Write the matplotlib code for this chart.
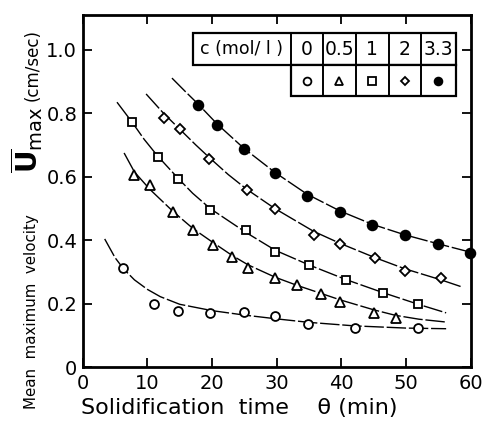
import numpy as np
import matplotlib
matplotlib.use("Agg")
import matplotlib.pyplot as plt
from matplotlib.patches import Rectangle

# concentration c (mol/l) and the marker used for each series
CONC = ["0", "0.5", "1", "2", "3.3"]
MARKERS = ["o", "^", "s", "D", "o"]
FILLED = [False, False, False, False, True]

# measured points, theta (min) vs mean max velocity (cm/sec)
T0 = [6.3, 11.0, 14.8, 19.7, 25.0, 29.8, 34.9, 42.1, 51.9]
U0 = [0.312, 0.200, 0.178, 0.171, 0.173, 0.161, 0.137, 0.124, 0.124]
T05 = [8.0, 10.4, 14.0, 17.1, 20.2, 23.1, 25.6, 29.8, 33.1, 36.9, 39.8, 45.1, 48.4]
U05 = [0.604, 0.574, 0.489, 0.432, 0.386, 0.348, 0.312, 0.281, 0.258, 0.232, 0.206, 0.169, 0.155]
T1 = [7.6, 11.6, 14.8, 19.7, 25.2, 29.8, 35.0, 40.7, 46.4, 51.9]
U1 = [0.773, 0.661, 0.594, 0.496, 0.431, 0.362, 0.323, 0.273, 0.234, 0.200]
T2 = [12.5, 15.1, 19.6, 25.4, 29.7, 35.7, 39.8, 45.2, 49.8, 55.4]
U2 = [0.786, 0.752, 0.657, 0.557, 0.499, 0.417, 0.387, 0.343, 0.302, 0.281]
T33 = [17.8, 20.8, 24.9, 29.7, 34.7, 39.8, 44.8, 49.8, 54.9, 59.9]
U33 = [0.827, 0.762, 0.688, 0.612, 0.538, 0.490, 0.448, 0.417, 0.388, 0.360]

# fitted curves
CT0 = [3.4, 5.0, 6.3, 8.0, 10.0, 12.0, 15.0, 20.0, 25.0, 30.0, 35.0, 42.0, 50.0, 56.2]
CU0 = [0.404, 0.345, 0.310, 0.275, 0.245, 0.222, 0.198, 0.178, 0.164, 0.152, 0.141, 0.130, 0.123, 0.121]
CT05 = [6.4, 8.0, 10.4, 14.0, 17.1, 20.2, 23.1, 25.6, 29.8, 33.1, 36.9, 39.8, 45.1, 48.4, 52.0, 56.2]
CU05 = [0.675, 0.615, 0.560, 0.490, 0.436, 0.392, 0.352, 0.322, 0.283, 0.258, 0.232, 0.212, 0.180, 0.163, 0.151, 0.142]
CT1 = [5.3, 7.6, 9.5, 11.6, 14.8, 17.0, 19.7, 25.2, 29.8, 35.0, 40.7, 46.4, 51.9, 56.2]
CU1 = [0.835, 0.773, 0.718, 0.665, 0.594, 0.548, 0.500, 0.425, 0.368, 0.322, 0.276, 0.235, 0.198, 0.171]
CT2 = [9.8, 12.5, 15.1, 17.5, 19.6, 22.5, 25.4, 29.7, 35.7, 39.8, 45.2, 49.8, 55.4, 58.6]
CU2 = [0.861, 0.800, 0.748, 0.700, 0.660, 0.607, 0.560, 0.500, 0.428, 0.390, 0.345, 0.310, 0.275, 0.253]
CT33 = [13.8, 15.8, 17.8, 20.8, 24.9, 29.7, 34.7, 39.8, 44.8, 49.8, 54.9, 60.0]
CU33 = [0.911, 0.870, 0.830, 0.766, 0.690, 0.614, 0.545, 0.492, 0.450, 0.417, 0.389, 0.362]

POINTS = [(T0, U0), (T05, U05), (T1, U1), (T2, U2), (T33, U33)]
CURVES = [(CT0, CU0), (CT05, CU05), (CT1, CU1), (CT2, CU2), (CT33, CU33)]
MSIZE = [6.4, 6.8, 6.0, 5.0, 7.0]

XTICKS = [0, 10, 20, 30, 40, 50, 60]
YTICKS = [0, 0.2, 0.4, 0.6, 0.8, 1.0]
YTICKLABELS = ["0", "0.2", "0.4", "0.6", "0.8", "1.0"]


def main():
    fig = plt.figure(figsize=(4.82, 4.21), dpi=100)
    ax = fig.add_axes([0.1716, 0.128, 0.805, 0.8365])

    for (ct, cu) in CURVES:
        ax.plot(ct, cu, color="k", lw=1.0, dashes=(14, 2), zorder=2)
    for (t, u), m, f, ms in zip(POINTS, MARKERS, FILLED, MSIZE):
        ax.plot(t, u, ls="none", marker=m, ms=ms, mew=1.3,
                mec="k", mfc="k" if f else "white", zorder=3, clip_on=False)

    ax.set_xlim(0, 60)
    ax.set_ylim(0, 1.11)
    ax.set_xticks(XTICKS)
    ax.set_yticks(YTICKS)
    ax.set_yticklabels(YTICKLABELS)
    ax.tick_params(direction="in", length=6.5, width=1.3, top=True, right=True,
                   labelsize=14, pad=4)
    ax.tick_params(axis="x", pad=5)
    for s in ax.spines.values():
        s.set_linewidth(2.0)

    # legend table (drawn in data coordinates)
    xe = [17.0, 32.2, 37.1, 42.3, 47.3, 52.3, 57.7]
    ytop, ymid, ybot = 1.053, 0.953, 0.853
    ax.add_patch(Rectangle((xe[0], ymid), xe[-1] - xe[0], ytop - ymid,
                           fc="white", ec="k", lw=1.6, zorder=4))
    ax.add_patch(Rectangle((xe[1], ybot), xe[-1] - xe[1], ymid - ybot,
                           fc="white", ec="k", lw=1.6, zorder=4))
    for x in xe[1:-1]:
        ax.plot([x, x], [ybot, ytop], color="k", lw=1.4, zorder=5)
    ax.text((xe[0] + xe[1]) / 2, (ytop + ymid) / 2, "c (mol/ l )",
            ha="center", va="center", fontsize=12.5, zorder=6)
    for i, (lab, m, f) in enumerate(zip(CONC, MARKERS, FILLED)):
        xc = (xe[i + 1] + xe[i + 2]) / 2
        ax.text(xc, (ytop + ymid) / 2 - 0.003, lab, ha="center", va="center",
                fontsize=13.5, zorder=6)
        ax.plot([xc], [(ymid + ybot) / 2], marker=m, ms=4.3 if m == "D" else 5.6,
                mew=1.3, mec="k", mfc="k" if f else "white", zorder=6)

    # axis labels
    fig.text(0.168, 1 - 408 / 421, "Solidification  time    \u03b8 (min)",
             ha="left", va="center", fontsize=16)
    fig.text(0.066, 1 - 312 / 421, "Mean  maximum  velocity", rotation=90,
             ha="center", va="center", fontsize=10.8)
    fig.text(0.056, 1 - 140 / 421, r"$\overline{\mathbf{U}}_{\mathrm{max}}$",
             rotation=90, ha="center", va="center", fontsize=20)
    fig.text(0.068, 1 - 65 / 421, "(cm/sec)", rotation=90,
             ha="center", va="center", fontsize=12)

    fig.savefig("out.png", dpi=100)
    plt.close(fig)


if __name__ == "__main__":
    main()
